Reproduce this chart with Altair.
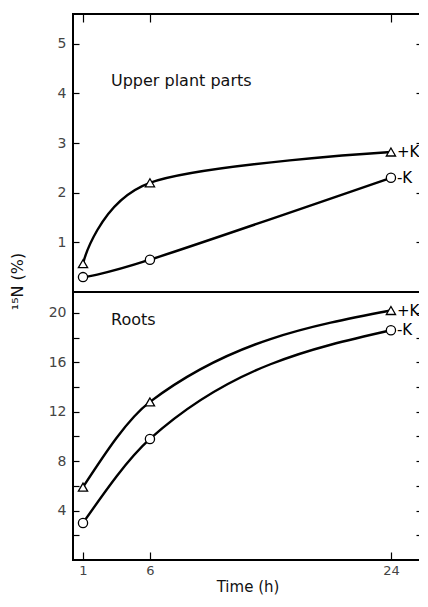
import altair as alt
import pandas as pd

# ---- data ----
times = [1, 6, 24]
series_names = ["+K", "-K"]
upper_plus = [0.57, 2.2, 2.82]
upper_minus = [0.3, 0.65, 2.3]
roots_plus = [5.9, 12.8, 20.2]
roots_minus = [3.0, 9.8, 18.6]
x_ticks = [1, 6, 24]
upper_ticks = [1, 2, 3, 4, 5]
roots_ticks = [2, 4, 6, 8, 10, 12, 14, 16, 18, 20]
panel_titles = ["Upper plant parts", "Roots"]
panel_title_time = [3.09, 3.09]
panel_title_value = [4.25, 19.4]


def make_df(plus, minus):
    rows = []
    for name, vals in zip(series_names, [plus, minus]):
        for t, v in zip(times, vals):
            rows.append({"time": t, "value": v, "series": name})
    return pd.DataFrame(rows)


df_up = make_df(upper_plus, upper_minus)
df_lo = make_df(roots_plus, roots_minus)
ann_up = pd.DataFrame({"time": [panel_title_time[0]], "value": [panel_title_value[0]], "text": [panel_titles[0]]})
ann_lo = pd.DataFrame({"time": [panel_title_time[1]], "value": [panel_title_value[1]], "text": [panel_titles[1]]})

FONT = "DejaVu Sans"
xs = alt.Scale(domain=[0.253, 26.32], nice=False, zero=False)
shape_enc = alt.Shape("series:N", scale=alt.Scale(domain=series_names, range=["triangle-up", "circle"]), legend=None)
PANEL_W = 349


def panel(df, ann, x_enc, y_main, y_right, height, curve):
    base = alt.Chart(df)
    lines = base.mark_line(interpolate=curve, color="black", strokeWidth=2.4).encode(
        x=x_enc, y=y_main, detail="series:N")
    pts = base.mark_point(filled=True, fill="white", stroke="black", strokeWidth=1.3, size=85, opacity=1).encode(
        x=x_enc, y=y_main, shape=shape_enc)
    ends = base.transform_filter(alt.datum.time == 24).mark_text(
        align="left", baseline="middle", dx=6, font=FONT, fontSize=15, color="black").encode(
        x=x_enc, y=y_main, text="series:N")
    title_txt = alt.Chart(ann).mark_text(
        align="left", baseline="middle", font=FONT, fontSize=16, color="#111").encode(
        x=x_enc, y=y_main, text="text:N")
    inner = alt.layer(lines, pts, ends, title_txt)
    ghost = base.mark_point(opacity=0).encode(x=x_enc, y=y_right)
    return alt.layer(inner, ghost).resolve_axis(y="independent").properties(width=PANEL_W, height=height)


# upper panel
ys_up = alt.Scale(domain=[0, 5.6], nice=False, zero=False)
x_top = alt.X("time:Q", scale=xs, axis=alt.Axis(orient="top", values=x_ticks, labels=False, domain=False,
                                                 tickSize=8, offset=-8, title=None, minExtent=0))
y_up = alt.Y("value:Q", scale=ys_up, axis=alt.Axis(
    orient="left", values=upper_ticks, format="d", domain=False, tickSize=6, offset=-6, labelPadding=7,
    minExtent=0, title="¹⁵N (%)", titleX=-62, titleY=267, titleAngle=270, titleAlign="center",
    titleBaseline="middle"))
y_up_r = alt.Y("value:Q", scale=ys_up, axis=alt.Axis(orient="right", values=upper_ticks, labels=False,
                                                      domain=False, tickSize=6, offset=-6, title=None,
                                                      minExtent=0))
upper = panel(df_up, ann_up, x_top, y_up, y_up_r, 278, "cardinal")

# lower panel
ys_lo = alt.Scale(domain=[0, 21.7], nice=False, zero=False)
x_bot = alt.X("time:Q", scale=xs, axis=alt.Axis(orient="bottom", values=x_ticks, format="d", domain=False,
                                                 tickSize=8, offset=-8, labelPadding=4, labelFontSize=13,
                                                 minExtent=0, title="Time (h)", titlePadding=2,
                                                 titleFontSize=15))
y_lo = alt.Y("value:Q", scale=ys_lo, axis=alt.Axis(
    orient="left", values=roots_ticks, domain=False, tickSize=6, offset=-6, labelPadding=7, minExtent=0,
    labelExpr="datum.value % 4 == 0 ? datum.label : ''", title=None))
y_lo_r = alt.Y("value:Q", scale=ys_lo, axis=alt.Axis(orient="right", values=roots_ticks, labels=False,
                                                      domain=False, tickSize=6, offset=-6, title=None,
                                                      minExtent=0))
lower = panel(df_lo, ann_lo, x_bot, y_lo, y_lo_r, 268, "monotone")

chart = alt.vconcat(upper, lower, spacing=0, bounds="flush").properties(
    padding={"left": 0, "top": 4, "right": -5, "bottom": 0}
).configure_view(stroke="black", strokeWidth=2).configure_axis(
    grid=False, labelFont=FONT, labelFontSize=14, labelColor="#444", tickColor="black", tickWidth=1.2,
    titleFont=FONT, titleFontSize=16, titleFontWeight="normal", titleColor="#111", minExtent=0
)

chart.save("out.html", embed_options={"renderer": "svg", "actions": False})
